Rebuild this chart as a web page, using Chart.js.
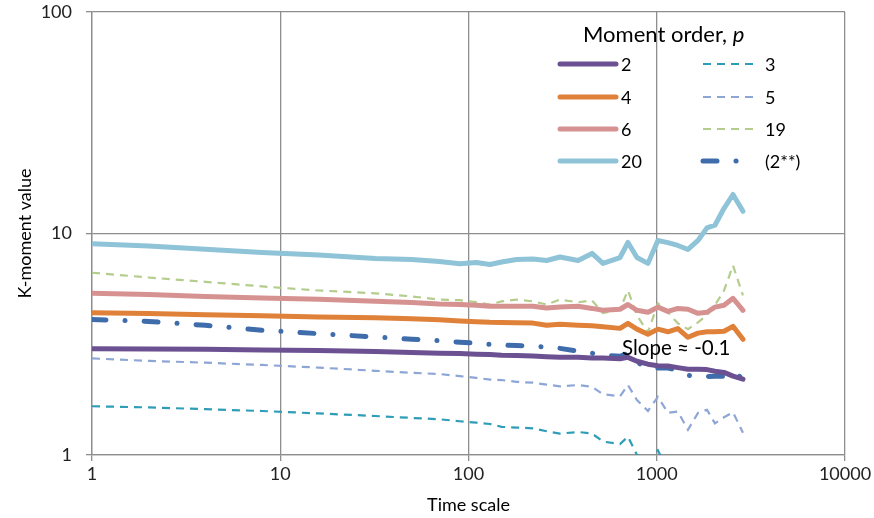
<!DOCTYPE html>
<html>
<head>
<meta charset="utf-8">
<script src="https://cdn.jsdelivr.net/npm/chart.js@4.4.0/dist/chart.umd.min.js"></script>
<style>
  body { margin: 0; background: #fff; }
  #wrap { width: 874px; height: 518px; }
</style>
</head>
<body>
<div id="wrap"><canvas id="chart" width="874" height="518"></canvas></div>
<script>
// time scales (x) and K-moment values for each moment order p
const timeScales = [1, 2, 4, 8, 16, 32, 50, 70, 90, 110, 130, 150, 180, 220, 260, 306, 382, 453, 518,
    638, 703, 785, 898, 1014, 1146, 1295, 1465, 1656, 1849, 2037, 2277, 2541, 2870];

const p2 = [3.02, 3.01, 3.00, 2.98, 2.96, 2.93, 2.90, 2.88, 2.87, 2.85, 2.84, 2.82, 2.81, 2.80, 2.78, 2.76, 2.76, 2.74, 2.74,
    2.72, 2.76, 2.65, 2.57, 2.53, 2.52, 2.48, 2.44, 2.44, 2.43, 2.39, 2.36, 2.27, 2.20];
const p3 = [1.66, 1.64, 1.61, 1.58, 1.54, 1.50, 1.47, 1.45, 1.42, 1.40, 1.38, 1.34, 1.33, 1.32, 1.28, 1.25, 1.27, 1.25, 1.15,
    1.12, 1.21, 1.00, 0.95, 1.05, 0.85, null, null, null, null, null, null, null, null];
const p4 = [4.39, 4.35, 4.30, 4.25, 4.20, 4.16, 4.12, 4.08, 4.03, 4.00, 3.97, 3.96, 3.95, 3.94, 3.85, 3.89, 3.85, 3.83, 3.79,
    3.73, 3.93, 3.70, 3.51, 3.70, 3.60, 3.72, 3.40, 3.55, 3.60, 3.60, 3.62, 3.81, 3.33];
const p5 = [2.73, 2.66, 2.61, 2.55, 2.48, 2.40, 2.35, 2.32, 2.27, 2.23, 2.19, 2.18, 2.14, 2.12, 2.08, 2.04, 2.07, 2.03, 1.88,
    1.84, 2.07, 1.77, 1.58, 1.83, 1.55, 1.57, 1.30, 1.55, 1.60, 1.39, 1.48, 1.56, 1.26];
const p6 = [5.37, 5.30, 5.20, 5.12, 5.05, 4.95, 4.88, 4.80, 4.78, 4.74, 4.70, 4.69, 4.69, 4.69, 4.61, 4.66, 4.69, 4.59, 4.50,
    4.55, 4.78, 4.50, 4.41, 4.65, 4.45, 4.59, 4.55, 4.36, 4.41, 4.65, 4.74, 5.10, 4.50];
const p19 = [6.65, 6.33, 6.05, 5.77, 5.53, 5.37, 5.20, 5.03, 5.00, 4.90, 4.78, 4.94, 5.03, 4.94, 4.78, 5.03, 4.89, 4.99, 4.37,
    4.55, 5.53, 4.27, 3.58, 4.84, 4.41, 3.93, 3.70, 3.97, 4.27, 4.74, 5.53, 7.17, 5.26];
const p20 = [9.00, 8.78, 8.50, 8.20, 8.00, 7.71, 7.63, 7.47, 7.30, 7.40, 7.25, 7.44, 7.63, 7.67, 7.55, 7.83, 7.55, 8.13, 7.33,
    7.79, 9.11, 7.79, 7.33, 9.30, 9.10, 8.83, 8.47, 9.30, 10.6, 10.9, 13.0, 15.0, 12.6];
const p2star = [4.09, 4.01, 3.85, 3.66, 3.53, 3.41, 3.33, 3.28, 3.23, 3.20, 3.16, 3.13, 3.12, 3.10, 3.07, 3.03, 2.94, 2.88, 2.82,
    2.79, 2.88, 2.62, 2.47, 2.47, 2.47, 2.41, 2.29, 2.27, 2.26, 2.27, 2.27, 2.36, 2.22];

const seriesLabels = ['2', '3', '4', '5', '6', '19', '20', '(2**)'];
const xTicks = [1, 10, 100, 1000, 10000];
const yTicks = [1, 10, 100];

const FONT = 'Lato, "Open Sans", sans-serif';
const GRID = '#8e8e8e';

function pts(arr) {
    return timeScales.map((t, i) => ({ x: t, y: arr[i] }));
}

function solid(label, arr, color) {
    return { label: label, data: pts(arr), borderColor: color, borderWidth: 5,
             borderCapStyle: 'round', borderJoinStyle: 'round', pointRadius: 0, tension: 0 };
}
function dashed(label, arr, color) {
    return { label: label, data: pts(arr), borderColor: color, borderWidth: 2.2,
             borderDash: [8, 6], pointRadius: 0, tension: 0 };
}

const datasets = [
    solid(seriesLabels[0], p2, '#6c5192'),
    dashed(seriesLabels[1], p3, '#2f9db7'),
    solid(seriesLabels[2], p4, '#e08139'),
    dashed(seriesLabels[3], p5, '#8ea6d6'),
    solid(seriesLabels[4], p6, '#d69290'),
    dashed(seriesLabels[5], p19, '#b4cc8c'),
    solid(seriesLabels[6], p20, '#8fc3d7'),
    { label: seriesLabels[7], data: pts(p2star), borderColor: '#3f6dab', borderWidth: 5,
      borderDash: [14, 19, 0.1, 19], borderCapStyle: 'round', pointRadius: 0, tension: 0 }
];

// legend + slope note drawn on top of the plot
const overlay = {
    id: 'overlay',
    afterDraw(chart) {
        const ctx = chart.ctx;
        ctx.save();
        ctx.fillStyle = '#000';
        ctx.textBaseline = 'middle';
        ctx.textAlign = 'left';

        // legend title
        ctx.font = '22px ' + FONT;
        const t1 = 'Moment order, ';
        ctx.fillText(t1, 583, 35);
        const w = ctx.measureText(t1).width;
        ctx.font = 'italic 22px ' + FONT;
        ctx.fillText('p', 583 + w, 35);

        const rows = [64, 97, 129, 161];
        const cols = [{ x0: 560, x1: 616, tx: 621 }, { x0: 703, x1: 755, tx: 765 }];
        ctx.font = '18px ' + FONT;
        chart.data.datasets.forEach((ds, i) => {
            const c = cols[i % 2];
            const y = rows[Math.floor(i / 2)];
            ctx.save();
            ctx.strokeStyle = ds.borderColor;
            ctx.lineWidth = ds.borderWidth;
            ctx.lineCap = ds.borderCapStyle || 'butt';
            ctx.setLineDash(ds.borderDash || []);
            ctx.beginPath();
            ctx.moveTo(c.x0, y);
            ctx.lineTo(c.x1, y);
            ctx.stroke();
            ctx.restore();
            ctx.fillText(ds.label, c.tx, y + 1);
        });

        // slope note
        const xs = chart.scales.x, ys = chart.scales.y;
        ctx.font = '20.5px ' + FONT;
        ctx.fillText('Slope \u2248 -0.1', xs.getPixelForValue(654), ys.getPixelForValue(3.03));
        ctx.restore();
    }
};

new Chart(document.getElementById('chart'), {
    type: 'line',
    data: { datasets: datasets },
    options: {
        responsive: false,
        animation: false,
        layout: { padding: { top: 12, right: 29, left: 0, bottom: 0 } },
        plugins: { legend: { display: false }, tooltip: { enabled: false } },
        scales: {
            x: {
                type: 'logarithmic',
                min: 1,
                max: 10000,
                afterBuildTicks: (s) => { s.ticks = xTicks.map(v => ({ value: v })); },
                afterFit: (s) => { s.height = 63; s.paddingLeft = 0; s.paddingRight = 0; },
                grid: { color: GRID, lineWidth: 1.3, drawTicks: true, tickLength: 6, tickColor: GRID },
                border: { display: true, color: GRID, width: 1.3 },
                ticks: { color: '#222', font: { family: FONT, size: 18 }, padding: 2, maxRotation: 0,
                         callback: (v) => String(v) },
                title: { display: true, text: 'Time scale', color: '#000',
                         font: { family: FONT, size: 18 }, padding: { top: 0, bottom: 2 } }
            },
            y: {
                type: 'logarithmic',
                min: 1,
                max: 100,
                afterBuildTicks: (s) => { s.ticks = yTicks.map(v => ({ value: v })); },
                afterFit: (s) => { s.width = 92; s.paddingTop = 0; s.paddingBottom = 0; },
                grid: { color: GRID, lineWidth: 1.3, drawTicks: true, tickLength: 6, tickColor: GRID },
                border: { display: true, color: GRID, width: 1.3 },
                ticks: { color: '#222', font: { family: FONT, size: 18 }, padding: 14,
                         callback: (v) => String(v) },
                title: { display: true, text: 'K-moment value', color: '#000',
                         font: { family: FONT, size: 18 }, padding: { top: 14, bottom: 0 } }
            }
        }
    },
    plugins: [overlay]
});
</script>
</body>
</html>
